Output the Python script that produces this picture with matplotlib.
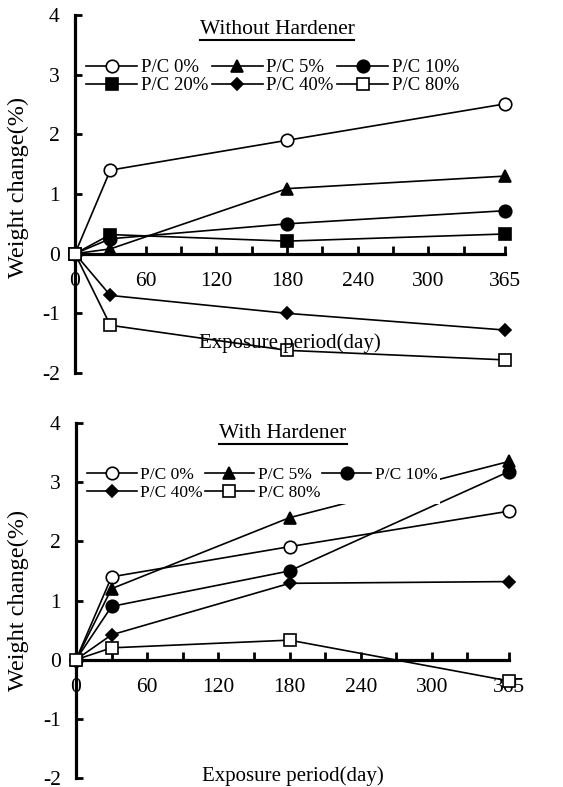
import matplotlib
matplotlib.use("Agg")
import matplotlib.pyplot as plt
from matplotlib.lines import Line2D

plt.rcParams['font.family'] = ['Liberation Serif', 'DejaVu Serif']

# exposure days
days = [0, 30, 180, 365]

# without hardener
nh_pc0 = [0, 1.40, 1.90, 2.51]
nh_pc5 = [0, 0.08, 1.09, 1.30]
nh_pc10 = [0, 0.25, 0.50, 0.72]
nh_pc20 = [0, 0.32, 0.21, 0.33]
nh_pc40 = [0, -0.70, -1.00, -1.28]
nh_pc80 = [0, -1.20, -1.62, -1.78]

# with hardener
wh_pc0 = [0, 1.40, 1.91, 2.51]
wh_pc5 = [0, 1.20, 2.40, 3.35]
wh_pc10 = [0, 0.90, 1.50, 3.18]
wh_pc40 = [0, 0.42, 1.29, 1.32]
wh_pc80 = [0, 0.20, 0.33, -0.36]

xtick_pos = [0, 30, 60, 90, 120, 150, 180, 210, 240, 270, 300, 330, 365]
xtick_lab = ['0', '', '60', '', '120', '', '180', '', '240', '', '300', '', '365']
ytick_pos = [-2, -1, 0, 1, 2, 3, 4]

styles = {
    'P/C 0%': dict(marker='o', mfc='white', ms=9),
    'P/C 5%': dict(marker='^', mfc='black', ms=8.5),
    'P/C 10%': dict(marker='o', mfc='black', ms=9),
    'P/C 20%': dict(marker='s', mfc='black', ms=8),
    'P/C 40%': dict(marker='D', mfc='black', ms=6),
    'P/C 80%': dict(marker='s', mfc='white', ms=8),
}

fig = plt.figure(figsize=(5.63, 7.87), dpi=100)
ax1 = fig.add_axes([75/563, 1-373/787, 430/563, 358/787])
ax2 = fig.add_axes([76/563, 1-778/787, 433/563, 355/787])


def style_axes(ax):
    ax.set_xlim(0, 365)
    ax.set_ylim(-2, 4)
    ax.patch.set_visible(False)
    for s in ['top', 'right']:
        ax.spines[s].set_visible(False)
    ax.spines['bottom'].set_position(('data', 0))
    ax.spines['left'].set_linewidth(2.3)
    ax.spines['bottom'].set_linewidth(2.3)
    ax.set_xticks(xtick_pos)
    ax.set_xticklabels(xtick_lab)
    ax.set_yticks(ytick_pos)
    ax.set_yticklabels([str(v) for v in ytick_pos])
    ax.tick_params(axis='x', direction='in', length=6, width=2, pad=13, labelsize=15.5)
    ax.tick_params(axis='y', direction='in', length=5, width=2, pad=11, labelsize=15.5)


def draw(ax, series, order):
    handles = {}
    for name, vals in series:
        st = styles[name]
        ln, = ax.plot(days, vals, color='black', lw=1.2, marker=st['marker'],
                      ms=st['ms'], mfc=st['mfc'], mec='black', mew=1.2,
                      clip_on=False, zorder=3, label=name)
        handles[name] = ln
    return [handles[n] for n in order]


style_axes(ax1)
style_axes(ax2)

hs1 = draw(ax1, [('P/C 0%', nh_pc0), ('P/C 5%', nh_pc5), ('P/C 10%', nh_pc10),
                 ('P/C 20%', nh_pc20), ('P/C 40%', nh_pc40), ('P/C 80%', nh_pc80)],
           ['P/C 0%', 'P/C 20%', 'P/C 5%', 'P/C 40%', 'P/C 10%', 'P/C 80%'])
hs2 = draw(ax2, [('P/C 0%', wh_pc0), ('P/C 5%', wh_pc5), ('P/C 10%', wh_pc10),
                 ('P/C 40%', wh_pc40), ('P/C 80%', wh_pc80)],
           ['P/C 0%', 'P/C 40%', 'P/C 5%', 'P/C 80%', 'P/C 10%'])

leg_kw = dict(ncol=3, loc='upper left', frameon=True, framealpha=1,
              edgecolor='none', facecolor='white', fancybox=False,
              handletextpad=0.2, borderpad=0.15, borderaxespad=0)
ax1.legend(handles=hs1, bbox_to_anchor=(0.02, 0.885), fontsize=13.5,
           handlelength=2.7, columnspacing=0.2, labelspacing=0.05, **leg_kw)
ax2.legend(handles=hs2, bbox_to_anchor=(0.02, 0.885), fontsize=12.5,
           handlelength=2.85, columnspacing=0.1, labelspacing=0.15, **leg_kw)

fig.text(290/563, 1-343/787, 'Exposure period(day)', ha='center', va='center', fontsize=15)
fig.text(293/563, 1-776/787, 'Exposure period(day)', ha='center', va='center', fontsize=15)
fig.text(18/563, 1-187/787, 'Weight change(%)', rotation=90, ha='center', va='center', fontsize=17.5)
fig.text(18/563, 1-600/787, 'Weight change(%)', rotation=90, ha='center', va='center', fontsize=17.5)

t1 = fig.text(277/563, 1-29/787, 'Without Hardener', ha='center', va='center', fontsize=15.5)
t2 = fig.text(283/563, 1-433/787, 'With Hardener', ha='center', va='center', fontsize=15.5)

fig.canvas.draw()
r = fig.canvas.get_renderer()
for t in (t1, t2):
    bb = t.get_window_extent(r).transformed(fig.transFigure.inverted())
    y = bb.y0 - 1.5/787
    fig.add_artist(Line2D([bb.x0, bb.x1], [y, y], color='black', lw=1.5,
                          transform=fig.transFigure))

fig.savefig('out.png', dpi=100)
